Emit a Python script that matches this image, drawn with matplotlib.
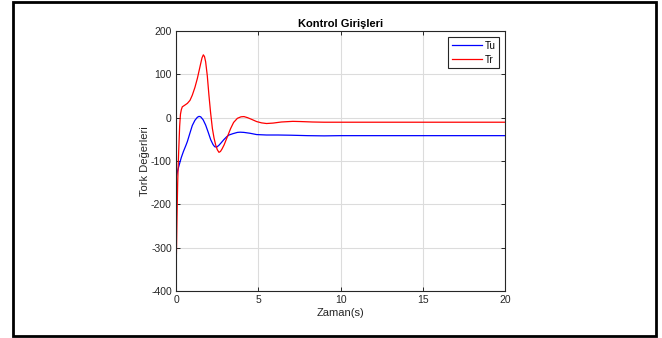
import matplotlib
matplotlib.use("Agg")
import matplotlib.pyplot as plt
from matplotlib.patches import Rectangle

plt.rcParams['font.family'] = ['Liberation Sans', 'DejaVu Sans']
plt.rcParams['axes.unicode_minus'] = False

# zaman ekseni ve tork degerleri (Tu, Tr)
t_u = [0.0, 0.1, 0.2, 0.32, 0.45, 0.6, 0.69, 0.85, 0.99, 1.15, 1.3, 1.4, 1.5, 1.65, 1.8,
       1.95, 2.11, 2.25, 2.35, 2.47, 2.6, 2.72, 2.9, 3.08, 3.22, 3.45, 3.73, 3.9, 4.13,
       4.5, 4.9, 5.5, 6.2, 7.0, 8.0, 9.0, 10.0, 12.0, 15.0, 18.0, 20.0]
tu = [-140, -122, -108, -92, -78, -64, -55, -35, -18, -6, 1, 3, 2, -5, -17,
      -33, -51, -62, -67, -68, -64, -59, -51, -44, -40, -37, -34, -33.5, -34,
      -36, -39, -40, -40, -40.5, -41.5, -42, -41.5, -41.5, -41.5, -41.5, -41.5]

t_r = [0.0, 0.03, 0.06, 0.1, 0.14, 0.18, 0.22, 0.27, 0.32, 0.38, 0.5, 0.69, 0.85, 0.99,
       1.15, 1.3, 1.4, 1.5, 1.58, 1.66, 1.73, 1.8, 1.9, 2.0, 2.1, 2.21, 2.31, 2.41, 2.51,
       2.61, 2.7, 2.8, 2.92, 3.1, 3.32, 3.5, 3.73, 3.95, 4.13, 4.35, 4.6, 4.9, 5.2, 5.5,
       5.9, 6.4, 7.1, 7.6, 8.3, 9.0, 10.0, 12.0, 15.0, 18.0, 20.0]
tr = [-360, -300, -230, -150, -100, -60, -20, 8, 18, 25, 28, 33, 40, 52,
      70, 91, 108, 125, 138, 145, 141, 129, 97, 52, 12, -25, -47, -63, -74,
      -80, -78, -72, -63, -46, -25, -11, -1.5, 2, 2.5, 0, -4, -9, -12, -13.5,
      -12.5, -10, -8.5, -9, -10, -10.5, -10.5, -10.5, -10.5, -10.5, -10.5]

fig = plt.figure(figsize=(6.62, 3.38), dpi=100)
ax = fig.add_axes([0.2659, 0.139, 0.497, 0.7693])

ax.plot(t_u, tu, color='#0000ff', lw=0.9, label='Tu')
ax.plot(t_r, tr, color='#ff0000', lw=0.9, label='Tr')

ax.set_xlim(0, 20)
ax.set_ylim(-400, 200)
ax.set_xticks([0, 5, 10, 15, 20])
ax.set_yticks([-400, -300, -200, -100, 0, 100, 200])
ax.grid(True, color='#dcdcdc', lw=0.8)
ax.set_axisbelow(True)
ax.tick_params(direction='in', length=3, width=0.7, top=True, right=True,
               labelsize=7.5, colors='#262626', pad=3)
for side in ax.spines.values():
    side.set_linewidth(0.8)
    side.set_color('#262626')

ax.set_title('Kontrol Girişleri', fontsize=8, fontweight='bold', pad=3)
ax.set_xlabel('Zaman(s)', fontsize=8, color='#262626', labelpad=2)
ax.set_ylabel('Tork Değerleri', fontsize=8, color='#262626', labelpad=1)

leg = ax.legend(loc='upper right', fontsize=7, fancybox=False, framealpha=1,
                edgecolor='#262626', handlelength=3.0, borderpad=0.4,
                labelspacing=0.4, handletextpad=0.3, borderaxespad=0.6)
leg.get_frame().set_linewidth(0.8)

# dis cerceve
fig.patches.append(Rectangle((13 / 662, 2 / 338), 643 / 662, 334 / 338,
                             transform=fig.transFigure, fill=False,
                             edgecolor='black', lw=2))

fig.savefig('out.png', dpi=100)
